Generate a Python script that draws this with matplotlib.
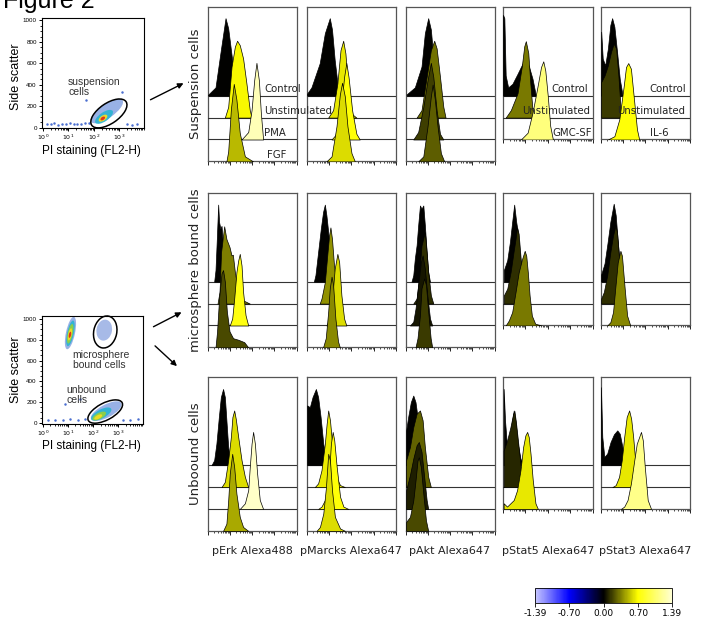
import numpy as np
import matplotlib
matplotlib.use('Agg')
import matplotlib.pyplot as plt
import matplotlib.transforms as mtransforms
from matplotlib.colors import LinearSegmentedColormap, Normalize
from matplotlib.patches import Ellipse, FancyArrowPatch
from matplotlib.cm import ScalarMappable

# ---------------- histogram overlays ----------------
# x in log decades (0-4), h in lane heights; first list = top lane (Control)
# med = median fold change used for the fill colour

# Suspension cells
susp_erk_x = [[0.03, 0.36, 0.60, 0.81, 0.93, 1.11, 1.35, 1.53],
              [0.78, 0.93, 1.08, 1.23, 1.33, 1.45, 1.60, 1.75, 1.90, 1.98],
              [1.53, 1.83, 1.98, 2.10, 2.20, 2.31, 2.40, 2.50],
              [0.85, 0.93, 1.05, 1.18, 1.30, 1.45, 1.68, 2.05]]
susp_erk_h = [[0.05, 0.38, 2.09, 3.54, 3.08, 1.63, 0.49, 0],
              [0, 0.49, 2.32, 3.24, 3.51, 3.31, 2.70, 1.56, 0.34, 0],
              [0, 0.34, 1.34, 2.72, 3.50, 2.70, 1.18, 0],
              [0, 0.46, 2.37, 3.54, 2.82, 1.30, 0.23, 0]]
susp_erk_med = [0, 0.68, 1.30, 0.50]

susp_marcks_x = [[0.03, 0.22, 0.59, 0.82, 1.04, 1.14, 1.26, 1.41, 1.49],
                 [0.97, 1.19, 1.38, 1.52, 1.64, 1.74, 1.86, 2.01, 2.23],
                 [1.12, 1.34, 1.53, 1.68, 1.78, 1.88, 2.04, 2.23, 2.38],
                 [0.89, 1.12, 1.34, 1.49, 1.59, 1.71, 1.83, 2.01, 2.16]]
susp_marcks_h = [[0.1, 0.38, 1.48, 2.85, 3.54, 3.02, 1.63, 0.34, 0],
                 [0, 0.34, 1.56, 3.08, 3.51, 2.93, 1.25, 0.18, 0],
                 [0, 0.26, 1.33, 2.85, 3.50, 2.85, 1.33, 0.26, 0],
                 [0, 0.23, 1.60, 3.05, 3.59, 2.98, 1.60, 0.38, 0]]
susp_marcks_med = [0, 0.63, 0.72, 0.60]

susp_akt_x = [[0.05, 0.42, 0.72, 0.87, 1.02, 1.14, 1.26, 1.40, 1.55],
              [0.50, 0.72, 0.95, 1.14, 1.29, 1.40, 1.55, 1.70, 1.80],
              [0.35, 0.57, 0.80, 0.99, 1.14, 1.25, 1.40, 1.55, 1.70],
              [0.57, 0.80, 0.99, 1.14, 1.22, 1.32, 1.44, 1.59, 1.74]]
susp_akt_h = [[0.06, 0.38, 1.33, 2.85, 3.54, 3.02, 1.63, 0.41, 0],
              [0, 0.34, 1.86, 3.08, 3.51, 3.16, 1.86, 0.49, 0],
              [0, 0.34, 1.48, 2.70, 3.50, 2.85, 1.33, 0.26, 0],
              [0, 0.23, 1.60, 2.98, 3.51, 2.82, 1.60, 0.38, 0]]
susp_akt_med = [0, 0.31, 0.17, 0.25]

susp_stat5_x = [[0, 0, 0.06, 0.12, 0.23, 0.42, 0.65, 0.87, 1.10, 1.32, 1.47],
                [0.12, 0.35, 0.65, 0.84, 0.95, 1.02, 1.13, 1.22, 1.32, 1.40],
                [0.80, 1.10, 1.32, 1.55, 1.70, 1.80, 1.89, 2.00, 2.11, 2.23]]
susp_stat5_h = [[0, 3.69, 3.54, 0.92, 0.38, 0.54, 1.0, 1.46, 1.54, 0.77, 0],
                [0, 0.34, 1.11, 2.34, 3.26, 3.49, 2.95, 1.57, 0.34, 0],
                [0, 0.31, 1.23, 2.46, 3.31, 3.57, 3.15, 2.0, 0.62, 0]]
susp_stat5_med = [0, 0.33, 1.10]

susp_stat3_x = [[0.03, 0.03, 0.10, 0.21, 0.33, 0.44, 0.52, 0.62, 0.74, 0.86, 0.99],
                [0.03, 0.03, 0.18, 0.33, 0.47, 0.59, 0.70, 0.80, 0.89, 0.95],
                [0.33, 0.62, 0.84, 1.04, 1.14, 1.24, 1.36, 1.48, 1.63, 1.73]]
susp_stat3_h = [[0, 2.92, 1.69, 1.38, 2.15, 3.23, 3.54, 3.15, 2.0, 0.77, 0],
                [0, 1.62, 1.92, 2.38, 3.0, 3.38, 3.15, 1.92, 0.54, 0],
                [0, 0.15, 0.92, 2.46, 3.31, 3.49, 3.23, 2.0, 0.46, 0]]
susp_stat3_med = [0, 0.16, 0.72]

# microsphere bound cells
micro_erk_x = [[0.30, 0.36, 0.42, 0.48, 0.52, 0.58, 0.63, 0.72, 0.85, 1.00],
               [0.45, 0.54, 0.61, 0.75, 0.85, 0.99, 1.08, 1.14, 1.23, 1.38, 1.60, 1.90],
               [1.00, 1.11, 1.20, 1.30, 1.38, 1.45, 1.53, 1.60, 1.71, 1.83],
               [0.36, 0.43, 0.52, 0.63, 0.70, 0.78, 0.87, 0.99, 1.15, 1.38, 1.65, 1.83]]
micro_erk_h = [[0, 0.53, 1.97, 3.52, 2.73, 2.42, 2.55, 1.36, 0.45, 0],
               [0, 0.53, 2.35, 3.53, 2.95, 2.58, 2.20, 2.23, 1.44, 0.53, 0.15, 0],
               [0, 0.32, 1.23, 2.44, 2.97, 3.27, 2.74, 1.53, 0.47, 0],
               [0, 0.73, 2.24, 3.38, 3.53, 3.0, 1.64, 0.73, 0.42, 0.35, 0.24, 0]]
micro_erk_med = [0, 0.34, 0.75, 0.20]

micro_marcks_x = [[0.33, 0.40, 0.52, 0.64, 0.74, 0.82, 0.89, 0.97, 1.04, 1.19, 1.26],
                  [0.59, 0.67, 0.82, 0.94, 1.01, 1.07, 1.14, 1.23, 1.34, 1.44, 1.56],
                  [0.89, 1.04, 1.16, 1.26, 1.38, 1.46, 1.56, 1.68, 1.78],
                  [0.74, 0.86, 0.97, 1.04, 1.12, 1.19, 1.29, 1.41, 1.49]]
micro_marcks_h = [[0, 0.30, 1.36, 2.42, 3.18, 3.52, 3.03, 2.27, 1.36, 0.30, 0],
                  [0, 0.23, 0.98, 2.35, 3.11, 3.48, 2.95, 1.74, 0.83, 0.23, 0],
                  [0, 0.32, 1.38, 2.59, 3.27, 2.89, 1.38, 0.32, 0],
                  [0, 0.42, 1.64, 2.70, 3.23, 2.85, 1.33, 0.27, 0]]
micro_marcks_med = [0, 0.40, 0.60, 0.38]

micro_akt_x = [[0.27, 0.35, 0.42, 0.50, 0.57, 0.65, 0.72, 0.80, 0.87, 0.95, 1.02, 1.10],
               [0.35, 0.50, 0.60, 0.72, 0.83, 0.87, 0.95, 1.02, 1.14, 1.25],
               [0.20, 0.35, 0.45, 0.57, 0.69, 0.77, 0.87, 0.98, 1.10, 1.20],
               [0.45, 0.54, 0.65, 0.72, 0.84, 0.92, 1.02, 1.13, 1.20]]
micro_akt_h = [[0, 0.30, 1.06, 1.67, 2.58, 3.48, 3.33, 3.48, 2.58, 1.36, 0.45, 0],
               [0, 0.23, 1.14, 2.65, 3.11, 3.26, 2.35, 1.44, 0.38, 0],
               [0, 0.17, 0.77, 1.83, 2.89, 3.20, 2.59, 1.38, 0.32, 0],
               [0, 0.42, 1.48, 2.70, 3.15, 2.85, 1.64, 0.42, 0]]
micro_akt_med = [0, 0.12, 0.06, 0.16]

micro_stat5_x = [[0.04, 0.04, 0.19, 0.31, 0.41, 0.50, 0.59, 0.66, 0.75, 0.85, 0.97],
                 [0.04, 0.04, 0.19, 0.34, 0.48, 0.56, 0.63, 0.70, 0.79, 0.89, 1.00],
                 [0.12, 0.26, 0.41, 0.56, 0.70, 0.85, 0.97, 1.04, 1.11, 1.19, 1.29, 1.44, 1.73]]
micro_stat5_h = [[0, 0.53, 0.98, 1.82, 2.73, 3.52, 2.73, 2.27, 1.21, 0.45, 0],
                 [0, 0.38, 0.68, 1.44, 2.42, 2.95, 3.48, 3.18, 2.05, 0.83, 0],
                 [0, 0.23, 0.61, 1.52, 2.42, 3.03, 3.41, 3.18, 2.42, 1.36, 0.45, 0.08, 0]]
micro_stat5_med = [0, 0.12, 0.33]

micro_stat3_x = [[0.03, 0.03, 0.18, 0.31, 0.44, 0.59, 0.68, 0.76, 0.84, 0.93, 1.04],
                 [0.03, 0.03, 0.15, 0.30, 0.44, 0.56, 0.67, 0.74, 0.83, 0.92, 1.04],
                 [0.30, 0.44, 0.56, 0.67, 0.77, 0.89, 0.96, 1.07, 1.19, 1.33]]
micro_stat3_h = [[0, 0.33, 0.83, 1.74, 2.73, 3.56, 3.03, 1.97, 1.06, 0.38, 0],
                 [0, 0.23, 0.53, 1.29, 2.35, 3.11, 3.56, 3.26, 2.05, 0.83, 0],
                 [0, 0.15, 0.61, 1.82, 2.88, 3.41, 3.18, 1.82, 0.45, 0]]
micro_stat3_med = [0, 0.12, 0.36]

# unbound cells
unb_erk_x = [[0.18, 0.30, 0.40, 0.51, 0.60, 0.70, 0.78, 0.85, 0.93, 1.05],
             [0.63, 0.78, 0.93, 1.05, 1.12, 1.20, 1.27, 1.38, 1.53, 1.68, 1.83],
             [1.45, 1.68, 1.83, 1.90, 1.98, 2.05, 2.13, 2.23, 2.35, 2.50],
             [0.70, 0.85, 0.93, 1.00, 1.11, 1.20, 1.30, 1.45, 1.60, 1.83]]
unb_erk_h = [[0, 0.23, 0.98, 2.20, 3.11, 3.48, 3.11, 2.05, 0.83, 0],
             [0, 0.24, 1.23, 2.29, 3.20, 3.50, 3.12, 2.29, 1.23, 0.47, 0],
             [0, 0.26, 0.86, 1.92, 2.98, 3.52, 2.98, 1.62, 0.41, 0],
             [0, 0.33, 1.39, 2.61, 3.52, 2.91, 1.70, 0.64, 0.18, 0]]
unb_erk_med = [0, 0.60, 1.35, 0.46]

unb_marcks_x = [[0.03, 0.03, 0.15, 0.27, 0.42, 0.52, 0.63, 0.75, 0.87, 0.97],
                [0.37, 0.52, 0.67, 0.82, 0.90, 0.97, 1.05, 1.17, 1.32, 1.50, 1.72],
                [0.52, 0.67, 0.90, 1.02, 1.09, 1.17, 1.24, 1.35, 1.50, 1.65, 1.87],
                [0.45, 0.60, 0.75, 0.87, 0.97, 1.05, 1.14, 1.27, 1.50, 1.72]]
unb_marcks_h = [[0, 2.73, 2.65, 3.11, 3.48, 3.11, 2.20, 0.98, 0.23, 0],
                [0, 0.17, 0.77, 1.98, 2.89, 3.50, 3.05, 1.68, 0.47, 0.09, 0],
                [0, 0.11, 0.56, 1.77, 2.98, 3.52, 3.14, 1.92, 0.56, 0.11, 0],
                [0, 0.18, 0.79, 2.0, 3.52, 3.21, 1.85, 0.64, 0.11, 0]]
unb_marcks_med = [0, 0.65, 0.72, 0.60]

unb_akt_x = [[0.03, 0.03, 0.12, 0.24, 0.35, 0.45, 0.54, 0.65, 0.75, 0.84],
             [0.03, 0.03, 0.20, 0.35, 0.50, 0.65, 0.77, 0.87, 1.02, 1.14],
             [0.03, 0.03, 0.20, 0.35, 0.50, 0.60, 0.72, 0.84, 0.95, 1.02],
             [0.03, 0.03, 0.20, 0.35, 0.45, 0.54, 0.60, 0.69, 0.80, 0.92, 1.02]]
unb_akt_h = [[0, 1.59, 2.20, 2.88, 3.18, 2.88, 2.20, 1.14, 0.23, 0],
             [0, 1.23, 1.83, 2.74, 3.35, 3.50, 3.05, 1.83, 0.47, 0],
             [0, 0.86, 1.55, 2.30, 2.91, 3.06, 2.61, 1.47, 0.41, 0],
             [0, 0.41, 0.64, 1.39, 2.30, 3.21, 3.36, 2.91, 1.70, 0.48, 0]]
unb_akt_med = [0, 0.27, 0.08, 0.20]

unb_stat5_x = [[0.03, 0.03, 0.09, 0.18, 0.30, 0.40, 0.48, 0.55, 0.66, 0.78, 0.93],
               [0.03, 0.03, 0.18, 0.33, 0.45, 0.51, 0.58, 0.70, 0.81, 0.93],
               [0.03, 0.03, 0.18, 0.33, 0.48, 0.63, 0.78, 0.90, 1.00, 1.08, 1.15, 1.23, 1.33, 1.45, 1.56]]
unb_stat5_h = [[0, 3.48, 2.05, 0.83, 1.21, 1.97, 2.50, 2.05, 0.98, 0.30, 0],
               [0, 1.67, 2.12, 2.73, 3.33, 3.48, 2.95, 1.82, 0.76, 0],
               [0, 0.26, 0.11, 0.26, 0.41, 0.86, 1.77, 2.83, 3.36, 3.52, 3.29, 2.53, 1.32, 0.26, 0]]
unb_stat5_med = [0, 0.10, 0.64]

unb_stat3_x = [[0.02, 0.02, 0.08, 0.17, 0.30, 0.45, 0.60, 0.75, 0.86, 0.98, 1.10, 1.21],
               [0.53, 0.68, 0.83, 0.95, 1.06, 1.17, 1.28, 1.37, 1.46, 1.55, 1.63],
               [0.91, 1.06, 1.21, 1.36, 1.51, 1.62, 1.81, 1.89, 1.98, 2.11, 2.26]]
unb_stat3_h = [[0, 3.56, 1.29, 0.38, 0.53, 1.06, 1.41, 1.59, 1.44, 0.83, 0.23, 0],
               [0, 0.09, 0.47, 1.23, 2.29, 3.20, 3.50, 3.12, 2.29, 1.23, 0],
               [0, 0.11, 0.41, 1.17, 2.23, 2.98, 3.52, 3.14, 1.92, 0.41, 0]]
unb_stat3_med = [0, 0.63, 1.15]

col_titles = ['pErk Alexa488', 'pMarcks Alexa647', 'pAkt Alexa647',
              'pStat5 Alexa647', 'pStat3 Alexa647']
row_titles = ['Suspension cells', 'microsphere bound cells', 'Unboound cells']
lane_labels = {0: ['Control', 'Unstimulated', 'PMA', 'FGF'],
               3: ['Control', 'Unstimulated', 'GMC-SF'],
               4: ['Control', 'Unstimulated', 'IL-6']}
cbar_ticks = [-1.39, -0.70, 0.00, 0.70, 1.39]

# ---------------- scatter (dot plot) data ----------------
# x = log10(PI), y = side scatter; blobs = density levels (outer -> core)
susp_blob_x = [2.51, 2.40, 2.36, 2.35]
susp_blob_y = [155, 101, 89, 86]
susp_blob_w = [1.49, 0.82, 0.39, 0.20]
susp_blob_h = [0.55, 0.35, 0.20, 0.12]
susp_gate = (2.59, 133, 1.63, 0.79, 34)
susp_debris_x = [0.15, 0.3, 0.45, 0.6, 0.75, 0.9, 1.05, 1.2, 1.35, 1.5, 1.65, 1.8, 3.3, 3.5, 3.7, 1.7, 3.1]
susp_debris_y = [35, 30, 40, 28, 36, 30, 42, 33, 38, 30, 45, 40, 30, 25, 35, 260, 330]

bead_blob_x = [1.10, 1.10, 1.09, 1.08, 1.08]
bead_blob_y = [865, 862, 858, 852, 848]
bead_blob_w = [1.33, 1.05, 0.80, 0.50, 0.25]
bead_blob_h = [0.36, 0.27, 0.20, 0.14, 0.09]
bound_blob = (2.45, 893, 0.85, 0.62, 80)
unb_blob_x = [2.53, 2.33, 2.25, 2.21]
unb_blob_y = [112, 84, 65, 56]
unb_blob_w = [1.37, 0.90, 0.60, 0.35]
unb_blob_h = [0.52, 0.36, 0.25, 0.15]
bound_gate = (2.49, 875, 1.30, 0.92, 78)
unb_gate = (2.49, 108, 1.53, 0.68, 28)
beads_debris_x = [0.2, 0.5, 0.8, 1.1, 1.4, 1.7, 3.2, 3.5, 3.8, 1.5, 0.9]
beads_debris_y = [25, 30, 22, 35, 28, 40, 30, 25, 35, 230, 180]

blob_colors = ['#6d90dc', '#2fb4d2', '#8fd044', '#f2dc22', '#e0341c']
blob_alpha = [0.7, 0.95, 0.95, 0.95, 1.0]

# ---------------- layout helpers ----------------
W, H = 704, 619
fig = plt.figure(figsize=(W / 100, H / 100), dpi=100)
plt.rcParams['font.family'] = 'DejaVu Sans'


def rect(left, top, right, bottom):
    return [left / W, 1 - bottom / H, (right - left) / W, (bottom - top) / H]


def fxy(px, py):
    return (px / W, 1 - py / H)


cmap = LinearSegmentedColormap.from_list(
    'fold', [(0, '#c8c8ff'), (0.248, '#0000ff'), (0.5, '#000000'),
             (0.752, '#ffff00'), (1, '#ffffd2')])
norm = Normalize(-1.39, 1.39)

# ---------------- histogram grid ----------------
col_left = [207.5, 306.5, 405.5, 503, 600.5]
col_right = [296.5, 396, 494.5, 592.5, 690]
row_tops = [7, 193, 376.5]
lane_px = 21.9

rows = [
    [(susp_erk_x, susp_erk_h, susp_erk_med), (susp_marcks_x, susp_marcks_h, susp_marcks_med),
     (susp_akt_x, susp_akt_h, susp_akt_med), (susp_stat5_x, susp_stat5_h, susp_stat5_med),
     (susp_stat3_x, susp_stat3_h, susp_stat3_med)],
    [(micro_erk_x, micro_erk_h, micro_erk_med), (micro_marcks_x, micro_marcks_h, micro_marcks_med),
     (micro_akt_x, micro_akt_h, micro_akt_med), (micro_stat5_x, micro_stat5_h, micro_stat5_med),
     (micro_stat3_x, micro_stat3_h, micro_stat3_med)],
    [(unb_erk_x, unb_erk_h, unb_erk_med), (unb_marcks_x, unb_marcks_h, unb_marcks_med),
     (unb_akt_x, unb_akt_h, unb_akt_med), (unb_stat5_x, unb_stat5_h, unb_stat5_med),
     (unb_stat3_x, unb_stat3_h, unb_stat3_med)],
]

label_pos = {0: ([2.55, 2.55, 2.55, 2.66], ['left'] * 4),
             3: ([3.80, 3.89, 3.98], ['right'] * 3),
             4: ([3.80, 3.80, 2.21], ['right', 'right', 'left'])}

minor_x = [d + np.log10(k) for d in range(4) for k in range(2, 10)]

for r, row in enumerate(rows):
    for c, (xs, hs, meds) in enumerate(row):
        n = len(xs)
        top = row_tops[r]
        ax = fig.add_axes(rect(col_left[c], top, col_right[c], top + (n + 3.05) * lane_px))
        for k in range(n):
            base = n - 1 - k
            z = 2 + 2 * k
            if base > 0:
                ax.axhline(base, color='#333333', lw=0.8, zorder=z)
            ax.fill_between(xs[k], base, base + np.array(hs[k]),
                            facecolor=cmap(norm(meds[k])), edgecolor='black',
                            lw=0.5, zorder=z + 1)
        ax.set_xlim(0, 4)
        ax.set_ylim(0, n - 1 + 4.05)
        ax.set_xticks(range(5))
        ax.set_xticks(minor_x, minor=True)
        ax.set_yticks([])
        ax.tick_params(axis='x', which='major', direction='out', length=3, width=0.6,
                       labelbottom=False)
        ax.tick_params(axis='x', which='minor', direction='out', length=1.6, width=0.5)
        for s in ax.spines.values():
            s.set_color('#555555')
            s.set_linewidth(0.9)
        if r == 0 and c in lane_labels:
            xpos, ha = label_pos[c]
            for k, lab in enumerate(lane_labels[c]):
                # figure-level text so it sits above the neighbouring panel
                fig.text(xpos[k], n - 1 - k + 0.15, lab, transform=ax.transData,
                         ha=ha[k], va='baseline', fontsize=7.3, color='#222222', zorder=20)
        if r == 2:
            fig.text(*fxy((col_left[c] + col_right[c]) / 2, 551.5), col_titles[c],
                     ha='center', va='center', fontsize=8, color='#222222')
        if c == 0:
            fig.text(*fxy(196, top + (n + 3.05) * lane_px / 2), row_titles[r],
                     rotation=90, ha='center', va='center', fontsize=9.5, color='#222222')

# ---------------- dot plots ----------------
sfont = 'Liberation Sans'


def dotplot(rc, ylim, xmax):
    ax = fig.add_axes(rc)
    ax.set_xlim(-0.05, xmax)
    ax.set_ylim(*ylim)
    ax.set_xticks([0, 1, 2, 3])
    ax.set_xticklabels([r'$10^{0}$', r'$10^{1}$', r'$10^{2}$', r'$10^{3}$'])
    ax.set_xticks([m for m in minor_x if m < xmax], minor=True)
    ax.set_yticks(range(0, 1001, 200))
    ax.set_yticks(range(0, 1001, 50), minor=True)
    ax.tick_params(which='major', direction='out', length=2.5, width=0.7, labelsize=4.5, pad=1)
    ax.tick_params(which='minor', direction='out', length=1.5, width=0.6)
    for lab in ax.get_yticklabels():
        lab.set_fontfamily(sfont)
    for s in ax.spines.values():
        s.set_linewidth(0.8)
    iso = mtransforms.Affine2D().scale(1, 240) + ax.transData
    return ax, iso


def blobs(ax, iso, bx, by, bw, bh, ang, levels):
    for i in range(len(bx)):
        ax.add_patch(Ellipse((bx[i], by[i] / 240), bw[i], bh[i], angle=ang,
                             facecolor=blob_colors[levels[i]], edgecolor='none',
                             alpha=blob_alpha[levels[i]], transform=iso, zorder=2 + i))


def gate(ax, iso, g):
    ax.add_patch(Ellipse((g[0], g[1] / 240), g[2], g[3], angle=g[4], facecolor='none',
                         edgecolor='black', lw=1.1, transform=iso, zorder=10, clip_on=False))


# suspension dot plot
ax1, iso1 = dotplot(rect(41.7, 18.3, 144, 127.7), (0, 1020), 3.97)
ax1.scatter(susp_debris_x, susp_debris_y, s=0.6, color='#4a6ed0', zorder=2)
blobs(ax1, iso1, susp_blob_x, susp_blob_y, susp_blob_w, susp_blob_h, 34, [0, 1, 3, 4])
gate(ax1, iso1, susp_gate)
ax1.text(0.99, 379, 'suspension\ncells', fontsize=7.5, family=sfont, color='#333333',
         ha='left', va='center', linespacing=1.0)

# microsphere dot plot
ax2, iso2 = dotplot(rect(41.7, 315.7, 143, 424), (-12, 1032), 4.0)
ax2.scatter(beads_debris_x, beads_debris_y, s=0.6, color='#4a6ed0', zorder=2)
blobs(ax2, iso2, bead_blob_x, bead_blob_y, bead_blob_w, bead_blob_h, 78, [0, 1, 2, 3, 4])
ax2.add_patch(Ellipse((bound_blob[0], bound_blob[1] / 240), bound_blob[2], bound_blob[3],
                      angle=bound_blob[4], facecolor='#5f82d4', edgecolor='none',
                      alpha=0.55, transform=iso2, zorder=2))
blobs(ax2, iso2, unb_blob_x, unb_blob_y, unb_blob_w, unb_blob_h, 28, [0, 1, 2, 3])
gate(ax2, iso2, bound_gate)
gate(ax2, iso2, unb_gate)
ax2.text(1.19, 609, 'microsphere\nbound cells', fontsize=7.5, family=sfont, color='#333333',
         ha='left', va='center', linespacing=1.0)
ax2.text(0.95, 272, 'unbound\ncells', fontsize=7.5, family=sfont, color='#333333',
         ha='left', va='center', linespacing=1.0)

for cy_side, cy_pi in [(77, 151), (370, 446)]:
    fig.text(*fxy(16, cy_side), 'Side scatter', rotation=90, ha='center', va='center',
             fontsize=9, family=sfont)
    fig.text(*fxy(91, cy_pi), 'PI staining (FL2-H)', ha='center', va='center',
             fontsize=8.5, family=sfont)

fig.text(*fxy(3, 8), 'Figure 2', fontsize=18, family=sfont, ha='left', va='baseline')

# arrows
for p0, p1 in [((148, 101), (186, 82)), ((151, 328), (184, 311)), ((153, 344), (179, 368))]:
    fig.add_artist(FancyArrowPatch(fxy(*p0), fxy(*p1), transform=fig.transFigure,
                                   arrowstyle='-|>', mutation_scale=8, lw=1.0, color='black'))

# ---------------- colour bar ----------------
cax = fig.add_axes(rect(535, 588, 672, 603))
cb = fig.colorbar(ScalarMappable(norm=norm, cmap=cmap), cax=cax, orientation='horizontal',
                  ticks=cbar_ticks)
cb.ax.set_xticklabels(['%.2f' % t for t in cbar_ticks])
cb.ax.tick_params(labelsize=6.5, length=3, width=0.6, pad=1.5)
cb.outline.set_linewidth(0.6)

fig.savefig('out.png', dpi=100)
